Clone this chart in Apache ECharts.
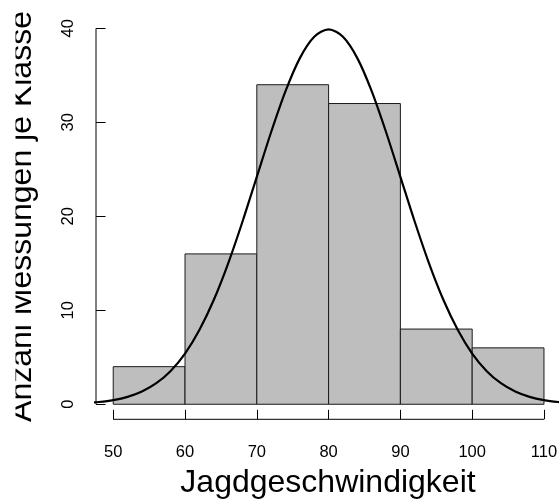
<!DOCTYPE html>
<html>
<head>
<meta charset="utf-8">
<script src="https://cdn.jsdelivr.net/npm/echarts@6/dist/echarts.min.js"></script>
<style>
html,body{margin:0;padding:0;background:#fff;}
#chart{width:559px;height:501px;}
</style>
</head>
<body>
<div id="chart"></div>
<script>
// Histogram classes (km/h) and counts per class
const binStart = [50, 60, 70, 80, 90, 100];
const binEnd   = [60, 70, 80, 90, 100, 110];
const counts   = [4, 16, 34, 32, 8, 6];

// Fitted normal curve (count per class)
const curveX = [46,48,50,52,54,56,58,60,62,64,66,68,70,72,74,76,78,80,
                82,84,86,88,90,92,94,96,98,100,102,104,106,108,110,112,114];
const curveY = [0.12,0.24,0.44,0.79,1.36,2.24,3.55,5.40,7.90,11.09,14.97,19.42,24.20,28.97,33.32,36.83,39.10,39.89,
                39.10,36.83,33.32,28.97,24.20,19.42,14.97,11.09,7.90,5.40,3.55,2.24,1.36,0.79,0.44,0.24,0.12];

// Tick labels
const xTicks = [50, 60, 70, 80, 90, 100, 110];
const yTicks = [0, 10, 20, 30, 40];

const xTitle = 'Jagdgeschwindigkeit';
const yTitle = 'Anzahl Messungen je Klasse';

// axis limits (R style 4% extension)
const xMin = 47.6, xMax = 112.4, yMin = -1.6, yMax = 41.6;

const FONT = '"Liberation Sans", Arial, Helvetica, sans-serif';

const barData = binStart.map((s, i) => [s, binEnd[i], counts[i]]);
const curveData = curveX.map((x, i) => [x, curveY[i]]);

const chart = echarts.init(document.getElementById('chart'), null, {renderer: 'canvas'});

chart.setOption({
  backgroundColor: '#ffffff',
  animation: false,
  grid: {left: 96, right: -2.2, top: 13.3, bottom: 81.7, containLabel: false, outerBoundsMode: 'none'},
  xAxis: {
    type: 'value', min: xMin, max: xMax,
    axisLine: {show: false, onZero: false},
    splitLine: {show: false},
    axisTick: {show: true, inside: true, length: 9.5, customValues: xTicks, lineStyle: {color: '#000', width: 1}},
    axisLabel: {show: true, customValues: xTicks, margin: 24.5, fontSize: 16.5, fontFamily: FONT, color: '#000',
                showMinLabel: true, showMaxLabel: true}
  },
  yAxis: {
    type: 'value', min: yMin, max: yMax,
    axisLine: {show: false, onZero: false},
    splitLine: {show: false},
    axisTick: {show: true, inside: true, length: 9.5, customValues: yTicks, lineStyle: {color: '#000', width: 1}},
    axisLabel: {show: true, customValues: yTicks, rotate: 90, margin: 19, fontSize: 16.5, fontFamily: FONT, color: '#000',
                showMinLabel: true, showMaxLabel: true}
  },
  series: [
    {
      type: 'custom',
      data: barData,
      encode: {x: [0, 1], y: 2},
      renderItem: function (params, api) {
        const p0 = api.coord([api.value(0), 0]);
        const p1 = api.coord([api.value(1), api.value(2)]);
        return {
          type: 'rect',
          shape: {x: p0[0], y: p1[1], width: p1[0] - p0[0], height: p0[1] - p1[1]},
          style: {fill: '#bebebe', stroke: '#1a1a1a', lineWidth: 1}
        };
      },
      z: 2
    },
    {
      type: 'line',
      data: curveData,
      smooth: 0.3,
      showSymbol: false,
      symbol: 'none',
      clip: true,
      lineStyle: {color: '#000', width: 2.2},
      z: 3
    },
    {
      // y axis line (0 .. 40)
      type: 'line',
      data: [[xMin, yTicks[0]], [xMin, yTicks[yTicks.length - 1]]],
      showSymbol: false, symbol: 'none', clip: false, silent: true,
      lineStyle: {color: '#000', width: 1}, z: 4
    },
    {
      // x axis line (50 .. 110)
      type: 'line',
      data: [[xTicks[0], yMin], [xTicks[xTicks.length - 1], yMin]],
      showSymbol: false, symbol: 'none', clip: false, silent: true,
      lineStyle: {color: '#000', width: 1}, z: 4
    }
  ],
  graphic: [
    {
      type: 'text', x: 328, y: 483, z: 10,
      style: {text: xTitle, font: '32px ' + FONT, fill: '#000', textAlign: 'center', textVerticalAlign: 'middle'}
    },
    {
      type: 'text', x: 22, y: 216.5, rotation: Math.PI / 2, z: 10,
      style: {text: yTitle, font: '32px ' + FONT, fill: '#000', textAlign: 'center', textVerticalAlign: 'middle'}
    },
    {
      // the reference clips the top of the rotated axis title at the left edge
      type: 'rect', shape: {x: 0, y: 0, width: 15.5, height: 440}, z: 20,
      style: {fill: '#ffffff'}
    }
  ]
});
</script>
</body>
</html>
